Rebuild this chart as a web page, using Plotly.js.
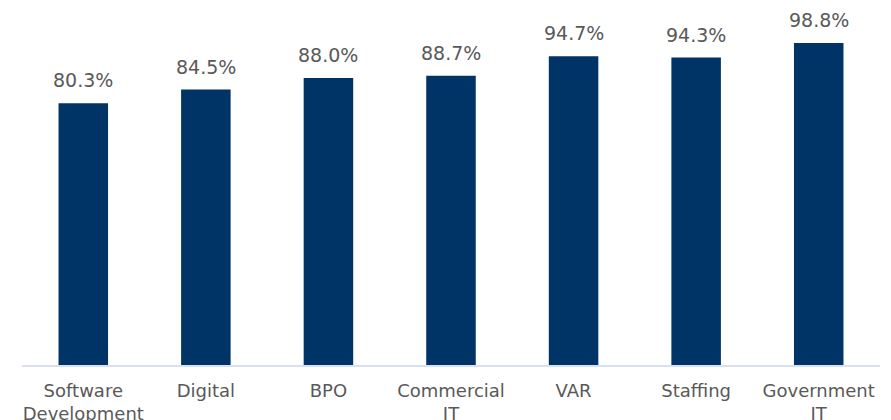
<!DOCTYPE html>
<html>
<head>
<meta charset="utf-8">
<script src="https://cdn.plot.ly/plotly-3.0.1.min.js"></script>
<style>
  html, body { margin: 0; padding: 0; background: #fff; }
  #chart { width: 891px; height: 420px; }
</style>
</head>
<body>
<div id="chart"></div>
<script>
// segments and their values (%)
var segments = ['Software<br>Development', 'Digital', 'BPO', 'Commercial<br>IT', 'VAR', 'Staffing', 'Government<br>IT'];
var values = [80.3, 84.5, 88.0, 88.7, 94.7, 94.3, 98.8];

var barColor = '#003366';
var textColor = '#595959';
var fontFamily = '"DejaVu Sans", "Open Sans", sans-serif';

var data = [{
    type: 'bar',
    x: segments,
    y: values,
    marker: {color: barColor},
    hoverinfo: 'none'
}];

// value labels sit a bit above each bar
var annotations = [];
for (let i = 0; i < segments.length; i++) {
    annotations.push({
        x: segments[i],
        y: values[i],
        text: values[i].toFixed(1) + '%',
        showarrow: false,
        xanchor: 'center',
        yanchor: 'bottom',
        yshift: 10,
        font: {family: fontFamily, size: 19, color: textColor}
    });
}

var layout = {
    width: 891,
    height: 420,
    margin: {l: 22, r: 11, t: 39, b: 55},
    paper_bgcolor: '#fff',
    plot_bgcolor: '#fff',
    showlegend: false,
    bargap: 0.596,
    xaxis: {
        showline: true,
        linecolor: '#D9E1EE',
        linewidth: 2,
        ticks: '',
        showgrid: false,
        zeroline: false,
        tickfont: {family: fontFamily, size: 18, color: textColor},
        ticklabelstandoff: 8,
        automargin: false
    },
    yaxis: {
        range: [0, 100],
        visible: false,
        showgrid: false,
        zeroline: false,
        fixedrange: true
    },
    annotations: annotations
};

Plotly.newPlot('chart', data, layout, {displayModeBar: false, staticPlot: true});
</script>
</body>
</html>
